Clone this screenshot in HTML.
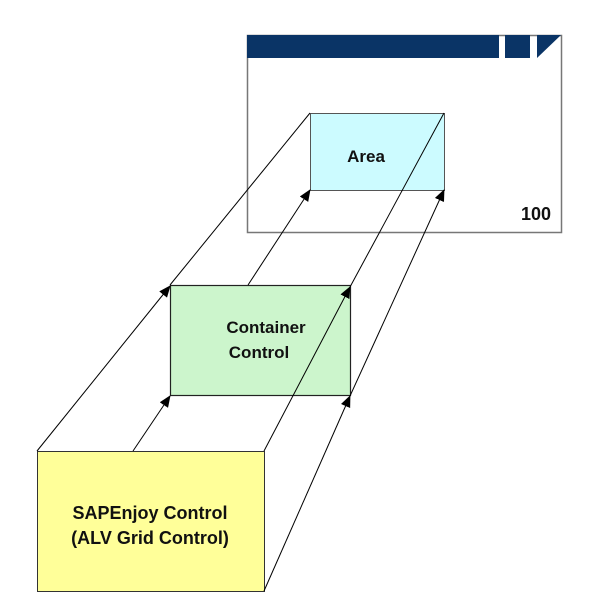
<!DOCTYPE html>
<html><head><style>html,body{margin:0;padding:0;background:#fff;}</style></head>
<body>
<svg width="602" height="601" viewBox="0 0 602 601" xmlns="http://www.w3.org/2000/svg" font-family="Liberation Sans, sans-serif" font-weight="bold">
<defs>
<marker id="a" markerWidth="12" markerHeight="10" refX="11" refY="5" orient="auto" markerUnits="userSpaceOnUse">
<path d="M0,0 L12,5 L0,10 z" fill="#000"/></marker>
</defs>
<rect x="247.5" y="35.5" width="314" height="197" fill="#fff" stroke="#777" stroke-width="1.5"/>
<rect x="247" y="35" width="252" height="23" fill="#0a3466"/>
<rect x="505" y="35" width="25" height="23" fill="#0a3466"/>
<path d="M537,35 L561,35 L537,58 z" fill="#0a3466"/>
<rect x="310.5" y="113.5" width="134" height="77" fill="#ccfbff" stroke="#555" stroke-width="1"/>
<text x="366" y="162" font-size="17" text-anchor="middle" fill="#111">Area</text>
<text x="551" y="220" font-size="18" text-anchor="end" fill="#111">100</text>
<rect x="170.5" y="285.5" width="180" height="110" fill="#ccf5cc" stroke="#222" stroke-width="1.2"/>
<text x="266" y="333" font-size="17" text-anchor="middle" fill="#111">Container</text>
<text x="259" y="358" font-size="17" text-anchor="middle" fill="#111">Control</text>
<rect x="37.5" y="451.5" width="227" height="140" fill="#ffff99" stroke="#333" stroke-width="1"/>
<text x="150" y="519" font-size="18" text-anchor="middle" fill="#111">SAPEnjoy Control</text>
<text x="150" y="544" font-size="18" text-anchor="middle" fill="#111">(ALV Grid Control)</text>
<g stroke="#000" stroke-width="1" fill="none">
<line x1="37" y1="451" x2="170" y2="286" marker-end="url(#a)"/>
<line x1="170" y1="285" x2="310" y2="113"/>
<line x1="133" y1="451" x2="170" y2="396" marker-end="url(#a)"/>
<line x1="248" y1="285" x2="310" y2="190" marker-end="url(#a)"/>
<line x1="264" y1="451" x2="350" y2="287" marker-end="url(#a)"/>
<line x1="350" y1="287" x2="444" y2="113"/>
<line x1="264" y1="591" x2="350" y2="396" marker-end="url(#a)"/>
<line x1="350" y1="396" x2="444" y2="190" marker-end="url(#a)"/>
</g>
</svg>
</body></html>
